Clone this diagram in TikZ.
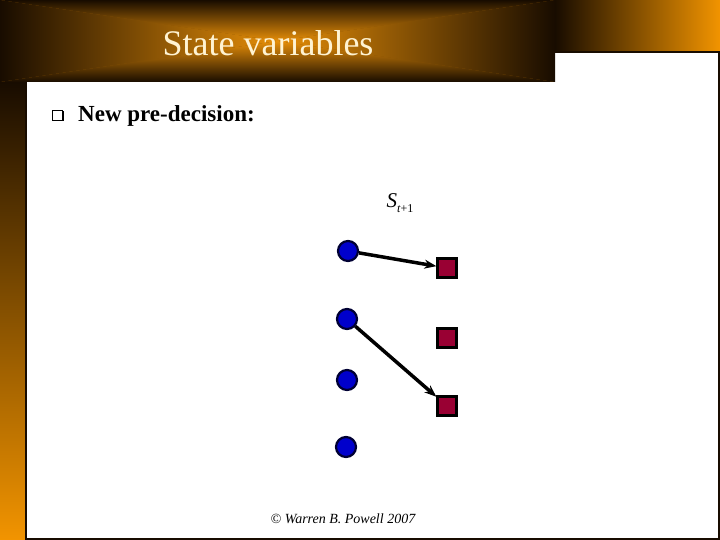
\documentclass[tikz,border=0pt]{standalone}
\usepackage{fontspec}
\setmainfont{Liberation Serif}
\usepackage{xcolor}
\usetikzlibrary{arrows.meta,shadows}

\definecolor{bannerorange}{HTML}{E68E08}
\definecolor{bannerdark}{HTML}{180C00}
\definecolor{barorange}{HTML}{F29400}
\definecolor{nodeblue}{HTML}{0000CC}
\definecolor{nodered}{HTML}{990033}
\definecolor{titlecream}{HTML}{FFF3D2}

\tikzset{
	statenode/.style={circle, draw=black!80!blue, line width=2.2pt, fill=nodeblue,
		minimum size=20pt, inner sep=0pt},
	postnode/.style={rectangle, draw=black, line width=2.2pt, fill=nodered,
		minimum size=19pt, inner sep=0pt},
	decision/.style={-{Stealth[length=12pt,width=9pt]}, line width=3.5pt, black}
}

\begin{document}
\begin{tikzpicture}[x=1pt,y=-1pt]
			\useasboundingbox (0,0) rectangle (720,540);
			% side bar and top band
			\shade[top color=bannerdark, bottom color=barorange] (0,82) rectangle (26,540);
			\shade[left color=bannerdark, right color=barorange] (555,0) rectangle (720,52);
			
			% title banner, four triangles
			\fill[bannerorange!55!bannerdark] (0,0) rectangle (555,82);
			\begin{scope}
			\clip (0,0) -- (555,0) -- (277.5,41) -- cycle;
			\shade[top color=bannerdark, bottom color=bannerorange] (0,0) rectangle (555,41);
			\end{scope}
			\begin{scope}
			\clip (0,82) -- (555,82) -- (277.5,41) -- cycle;
			\shade[top color=bannerorange, bottom color=bannerdark] (0,41) rectangle (555,82);
			\end{scope}
			\begin{scope}
			\clip (0,0) -- (0,82) -- (277.5,41) -- cycle;
			\shade[left color=bannerdark, right color=bannerorange] (0,0) rectangle (277.5,82);
			\end{scope}
			\begin{scope}
			\clip (555,0) -- (555,82) -- (277.5,41) -- cycle;
			\shade[left color=bannerorange, right color=bannerdark] (277.5,0) rectangle (555,82);
			\end{scope}
			
			% frame of the slide
			\draw[line width=2pt, bannerdark] (26,82) -- (26,539) -- (718.5,539) -- (718.5,52) -- (555,52);
			
			\node (title) at (268,43) {\fontsize{36}{40}\selectfont\color{titlecream}State variables};
			\node[draw, fill=white, line width=0.8pt, minimum size=10pt, inner sep=0pt,
				drop shadow={shadow xshift=1.5pt, shadow yshift=-1.5pt, opacity=1, fill=black}] (bullet) at (57,115) {};
			\node[anchor=west, inner sep=0pt] (heading) at (78,116) {\fontsize{23}{27}\selectfont\bfseries New pre-decision:};
			\node (label) at (400,203) {\fontsize{21}{24}\selectfont\textit{S}\raisebox{-5pt}{\fontsize{12}{14}\selectfont\textit{t}+1}};
			
			\node[statenode] (c1) at (348,251) {};
			\node[statenode] (c2) at (347,319) {};
			\node[statenode] (c3) at (347,380) {};
			\node[statenode] (c4) at (346,447) {};
			
			\node[postnode] (q1) at (447,268) {};
			\node[postnode] (q2) at (447,338) {};
			\node[postnode] (q3) at (447,406) {};
			
			\draw[decision] (c1) -- (q1);
			\draw[decision] (c2) -- (q3);
			
			\node (credit) at (343,519) {\fontsize{14}{16}\selectfont\itshape © Warren B. Powell 2007};
\end{tikzpicture}
\end{document}
